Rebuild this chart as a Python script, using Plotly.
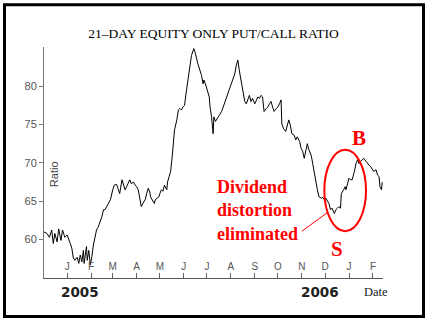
import plotly.graph_objects as go

# 21-day equity-only put/call ratio, sampled every few sessions
dates = [
    "2004-12-02", "2004-12-06", "2004-12-09", "2004-12-12", "2004-12-14", "2004-12-16",
    "2004-12-19", "2004-12-21", "2004-12-24", "2004-12-26", "2004-12-29", "2005-01-01",
    "2005-01-05", "2005-01-07", "2005-01-09", "2005-01-11", "2005-01-14", "2005-01-16",
    "2005-01-18", "2005-01-20", "2005-01-22", "2005-01-23", "2005-01-26", "2005-01-27",
    "2005-01-29", "2005-01-31", "2005-02-02", "2005-02-04", "2005-02-08", "2005-02-10",
    "2005-02-15", "2005-02-17", "2005-02-19", "2005-02-23", "2005-02-26", "2005-03-01",
    "2005-03-03", "2005-03-06", "2005-03-08", "2005-03-10", "2005-03-13", "2005-03-15",
    "2005-03-17", "2005-03-19", "2005-03-21", "2005-03-23", "2005-03-25", "2005-03-28",
    "2005-03-30", "2005-04-01", "2005-04-03", "2005-04-05", "2005-04-07", "2005-04-09",
    "2005-04-12", "2005-04-14", "2005-04-16", "2005-04-18", "2005-04-19", "2005-04-21",
    "2005-04-24", "2005-04-25", "2005-04-28", "2005-04-30", "2005-05-01", "2005-05-03",
    "2005-05-05", "2005-05-07", "2005-05-10", "2005-05-11", "2005-05-13", "2005-05-15",
    "2005-05-17", "2005-05-19", "2005-05-20", "2005-05-23", "2005-05-25", "2005-05-27",
    "2005-05-29", "2005-05-31", "2005-06-02", "2005-06-04", "2005-06-07", "2005-06-09",
    "2005-06-11", "2005-06-14", "2005-06-16", "2005-06-19", "2005-06-22", "2005-06-24",
    "2005-06-26", "2005-06-27", "2005-06-29", "2005-07-01", "2005-07-04", "2005-07-05",
    "2005-07-07", "2005-07-09", "2005-07-10", "2005-07-12", "2005-07-15", "2005-07-17",
    "2005-07-20", "2005-07-22", "2005-07-24", "2005-07-26", "2005-07-28", "2005-07-30",
    "2005-08-01", "2005-08-04", "2005-08-06", "2005-08-08", "2005-08-10", "2005-08-12",
    "2005-08-14", "2005-08-16", "2005-08-19", "2005-08-21", "2005-08-23", "2005-08-25",
    "2005-08-27", "2005-08-29", "2005-09-01", "2005-09-03", "2005-09-05", "2005-09-07",
    "2005-09-09", "2005-09-11", "2005-09-13", "2005-09-16", "2005-09-18", "2005-09-20",
    "2005-09-22", "2005-09-24", "2005-09-26", "2005-09-29", "2005-10-01", "2005-10-03",
    "2005-10-05", "2005-10-06", "2005-10-08", "2005-10-11", "2005-10-12", "2005-10-15",
    "2005-10-17", "2005-10-19", "2005-10-22", "2005-10-24", "2005-10-26", "2005-10-29",
    "2005-10-31", "2005-11-02", "2005-11-04", "2005-11-06", "2005-11-08", "2005-11-10",
    "2005-11-13", "2005-11-15", "2005-11-17", "2005-11-19", "2005-11-21", "2005-11-23",
    "2005-11-26", "2005-11-28", "2005-11-30", "2005-12-02", "2005-12-04", "2005-12-06",
    "2005-12-08", "2005-12-10", "2005-12-13", "2005-12-15", "2005-12-17", "2005-12-19",
    "2005-12-21", "2005-12-22", "2005-12-25", "2005-12-27", "2005-12-28", "2005-12-30",
    "2006-01-01", "2006-01-03", "2006-01-05", "2006-01-08", "2006-01-10", "2006-01-12",
    "2006-01-14", "2006-01-16", "2006-01-18", "2006-01-20", "2006-01-23", "2006-01-25",
    "2006-01-27", "2006-01-29", "2006-01-31", "2006-02-02", "2006-02-05", "2006-02-07",
    "2006-02-09", "2006-02-10", "2006-02-12", "2006-02-13",
]
ratio = [
    61.0, 60.8, 60.3, 61.25, 59.5, 60.8,
    59.7, 61.4, 59.9, 61.25, 60.3, 60.6,
    59.5, 58.9, 57.6, 57.3, 57.7, 56.9,
    58.0, 57.1, 58.6, 56.9, 59.1, 57.3,
    58.6, 56.7, 57.8, 59.3, 61.25, 61.6,
    63.0, 63.9, 63.9, 64.7, 65.2, 66.5,
    67.1, 67.2, 66.7, 66.0, 67.8, 67.1,
    66.5, 66.9, 67.3, 67.8, 67.3, 67.5,
    67.1, 66.9, 66.5, 65.2, 64.3, 64.7,
    65.2, 66.0, 66.7, 66.2, 65.6, 65.2,
    64.7, 65.2, 65.4, 65.6, 66.0, 66.5,
    66.3, 67.1, 66.5, 67.5, 68.2, 68.9,
    70.8, 73.0, 74.3, 75.6, 76.9, 77.1,
    76.9, 77.3, 77.5, 79.1, 81.2, 83.0,
    84.0, 84.9, 84.3, 83.0, 82.1, 81.4,
    80.3, 80.8, 80.3, 79.7, 78.6, 77.3,
    76.0, 73.8, 76.0, 75.4, 75.8, 76.2,
    76.7, 77.3, 77.7, 78.4, 79.1, 79.5,
    80.3, 81.2, 81.6, 82.7, 83.4, 82.0,
    80.8, 79.5, 78.0, 77.7, 78.4, 78.8,
    78.0, 78.4, 77.7, 78.2, 78.6, 78.4,
    78.8, 78.6, 76.7, 77.1, 77.3, 77.7,
    78.0, 77.3, 76.7, 77.1, 77.3, 77.7,
    78.2, 75.1, 74.5, 74.1, 74.5, 75.6,
    74.9, 73.8, 73.6, 73.0, 73.4, 72.8,
    71.9, 71.5, 70.6, 71.7, 72.5, 71.7,
    71.0, 69.9, 68.6, 67.8, 66.5, 65.6,
    65.4, 65.5, 65.2, 65.4, 65.0, 64.7,
    63.9, 64.1, 63.4, 63.9, 64.1, 64.3,
    64.1, 66.0, 66.5, 66.9, 66.5, 67.5,
    68.0, 67.8, 67.8, 68.9, 69.9, 70.4,
    69.9, 70.2, 70.4, 70.6, 70.2, 69.9,
    69.7, 69.5, 69.1, 68.9, 69.1, 68.4,
    68.2, 66.9, 66.5, 67.5,
]

month_ticks = [
    "2005-01-01", "2005-02-01", "2005-03-01", "2005-04-01", "2005-05-01", "2005-06-01",
    "2005-07-01", "2005-08-01", "2005-09-01", "2005-10-01", "2005-11-01", "2005-12-01",
    "2006-01-01", "2006-02-01",
]
month_labels = ["J", "F", "M", "A", "M", "J", "J", "A", "S", "O", "N", "D", "J", "F"]
ratio_ticks = [55, 60, 65, 70, 75, 80]

RED = "#ff0000"
SERIF = "Liberation Serif, Times New Roman, serif"
SANS = "Liberation Sans, Arial, sans-serif"
WIDE_BOLD = "DejaVu Sans, Verdana, sans-serif"

# plot-area geometry in pixels, used to place captions outside the axes
L, R, T, B = 44, 383, 46.7, 278
W, H = R - L, B - T


def px(x):
    return (x - L) / W


def py(y):
    return (B - y) / H


fig = go.Figure()
fig.add_trace(go.Scatter(
    x=dates, y=ratio, mode="lines",
    line=dict(color="black", width=1), hoverinfo="skip", showlegend=False,
))

fig.update_layout(
    width=432, height=323,
    margin=dict(l=L, r=432 - R, t=T, b=323 - B),
    paper_bgcolor="white", plot_bgcolor="white",
    title=dict(
        text="21–DAY EQUITY ONLY PUT/CALL RATIO",
        x=0.5, xanchor="center", xref="paper",
        y=1 - 33 / 323, yanchor="middle",
        font=dict(family=SERIF, size=13.5, color="black"),
    ),
    xaxis=dict(
        type="date", range=["2004-12-02", "2006-02-14"],
        tickmode="array", tickvals=month_ticks, ticktext=month_labels,
        ticks="inside", ticklen=5, tickcolor="#666",
        ticklabelposition="inside",
        tickfont=dict(family=SANS, size=10, color="#555"),
        showline=True, linecolor="#555", linewidth=1,
        showgrid=False, zeroline=False, fixedrange=True,
    ),
    yaxis=dict(
        range=[55, 85.1],
        tickmode="array", tickvals=ratio_ticks,
        ticks="outside", ticklen=4, tickcolor="#777",
        tickfont=dict(family=SANS, size=11, color="#555"),
        showline=True, linecolor="#777", linewidth=1,
        showgrid=False, zeroline=False, fixedrange=True,
    ),
)

# Axis captions
fig.add_annotation(text="Ratio", xref="paper", yref="paper",
                   x=px(54), y=py(174), xanchor="center", yanchor="middle",
                   textangle=-90, showarrow=False,
                   font=dict(family=SANS, size=11, color="#444"))
fig.add_annotation(text="<b>2005</b>", xref="paper", yref="paper",
                   x=px(80), y=py(292), xanchor="center", yanchor="middle",
                   showarrow=False, font=dict(family=WIDE_BOLD, size=13.5, color="#222"))
fig.add_annotation(text="<b>2006</b>", xref="paper", yref="paper",
                   x=px(320), y=py(292), xanchor="center", yanchor="middle",
                   showarrow=False, font=dict(family=WIDE_BOLD, size=13.5, color="#222"))
fig.add_annotation(text="Date", xref="paper", yref="paper",
                   x=px(375.5), y=py(292), xanchor="center", yanchor="middle",
                   showarrow=False, font=dict(family=SERIF, size=12.5, color="#222"))

# Red commentary
fig.add_annotation(text="<b>Dividend<br>distortion<br>eliminated</b>",
                   x="2005-07-12", y=63.85, xanchor="left", yanchor="middle",
                   align="left", showarrow=False,
                   font=dict(family=SERIF, size=18, color=RED))
fig.add_annotation(text="<b>B</b>", x="2006-01-14", y=73.2, showarrow=False,
                   xanchor="center", yanchor="middle",
                   font=dict(family=SERIF, size=21, color=RED))
fig.add_annotation(text="<b>S</b>", x="2005-12-16", y=58.8, showarrow=False,
                   xanchor="center", yanchor="middle",
                   font=dict(family=SERIF, size=21, color=RED))
fig.add_shape(type="circle", x0="2005-11-30", x1="2006-01-23", y0=61.1, y1=71.7,
              line=dict(color=RED, width=2))
fig.add_shape(type="line", x0="2005-11-01", y0=61.1, x1="2005-12-05", y1=63.6,
              line=dict(color=RED, width=1))

# Outer frame
fig.add_shape(type="rect", xref="paper", yref="paper",
              x0=px(4.5), x1=px(423.5), y0=py(316.5), y1=py(4.5),
              line=dict(color="black", width=3))

fig.write_html("out.html", config={"displayModeBar": False})
